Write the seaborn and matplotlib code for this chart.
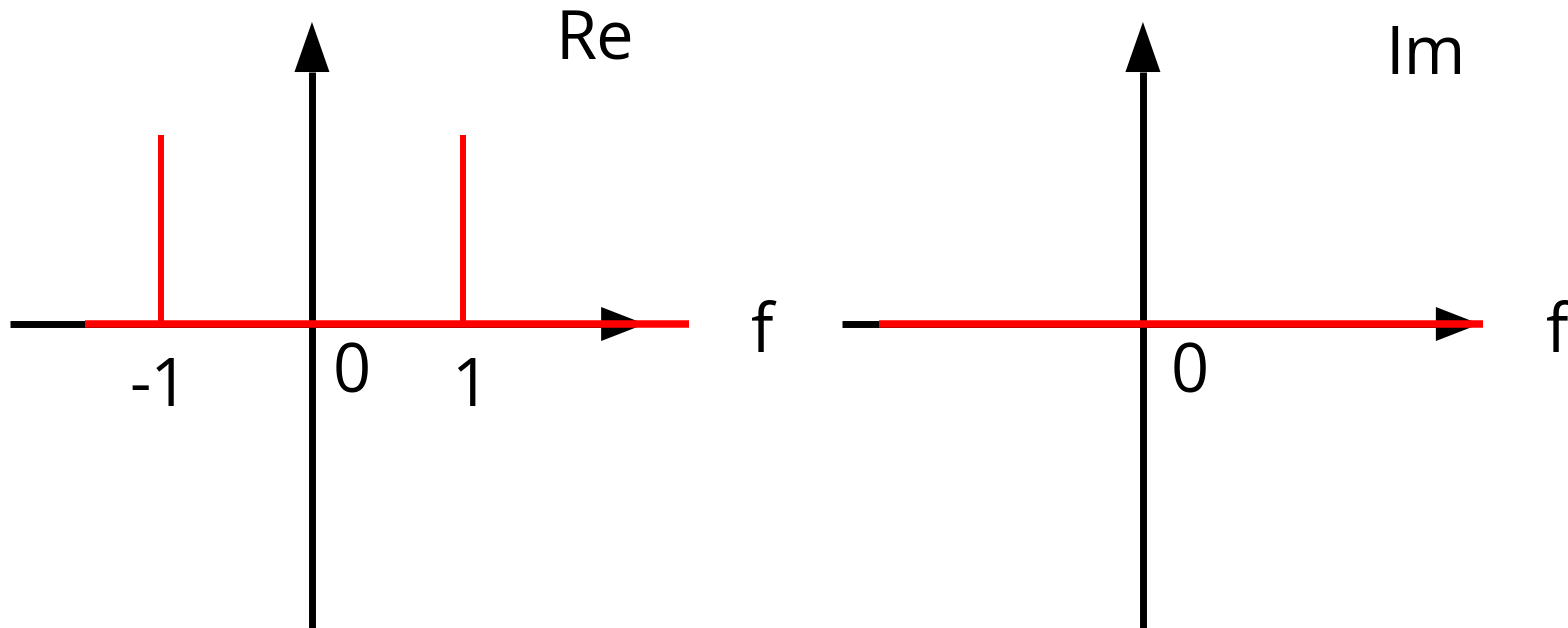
import matplotlib
matplotlib.use("Agg")
import matplotlib.pyplot as plt
import numpy as np
import pandas as pd
import seaborn as sns

# Spectrum of cos(2*pi*f0*t) with f0 = 1: real part has two impulses, imaginary part is zero
impulse_freqs = [-1, 1]
re_amplitudes = [1.0, 1.0]
re_band = [-1.5, 2.5]      # extent of the drawn real spectrum
im_band = [-1.75, 2.25]    # extent of the drawn imaginary spectrum
im_values = [0.0, 0.0]
re_tick_labels = ["-1", "1"]
panel_titles = ["Re", "Im"]
axis_label = "f"

sns.set_theme(style="white")
plt.rcParams["font.family"] = ["Open Sans", "DejaVu Sans"]

RED = "#ff0000"
BLACK = "#000000"
FS = 48

fig = plt.figure(figsize=(15.68, 6.28), dpi=100)
ax_re = fig.add_axes([0.0, 0.0, 0.5, 1.0])
ax_im = fig.add_axes([0.5, 0.0, 0.5, 1.0])

# x unit = 151 px, y unit = 189 px
ax_re.set_xlim(-2.066, 3.126)
ax_im.set_xlim(-2.377, 2.815)
for ax in (ax_re, ax_im):
    ax.set_ylim(-1.608, 1.714)
    ax.set_axis_off()


def draw_axes(ax, x_start, x_tip):
    # horizontal frequency axis with arrow head
    hl, hw = 0.29, 0.09
    ax.plot([x_start, x_tip - hl], [0, 0], color=BLACK, lw=5.0,
            solid_capstyle="butt", zorder=1)
    ax.fill([x_tip - hl, x_tip, x_tip - hl], [-hw, 0, hw], color=BLACK,
            lw=0, zorder=1)
    # vertical amplitude axis with arrow head
    vl, vw = 0.265, 0.116
    y_tip = 1.598
    ax.plot([0, 0], [-1.7, y_tip - vl], color=BLACK, lw=5.0,
            solid_capstyle="butt", zorder=1)
    ax.fill([-vw, 0, vw], [y_tip - vl, y_tip, y_tip - vl], color=BLACK,
            lw=0, zorder=1)


draw_axes(ax_re, -2.0, 2.205)
draw_axes(ax_im, -1.993, 2.23)

# real part: zero line plus impulses
re_df = pd.DataFrame({"f": re_band, "X": [0.0, 0.0]})
sns.lineplot(data=re_df, x="f", y="X", ax=ax_re, color=RED, lw=5.4,
             solid_capstyle="butt", zorder=3)
ax_re.vlines(impulse_freqs, 0, re_amplitudes, color=RED, lw=4.3, zorder=3)
ax_re.set_axis_off()

# imaginary part: identically zero
im_df = pd.DataFrame({"f": im_band, "X": im_values})
sns.lineplot(data=im_df, x="f", y="X", ax=ax_im, color=RED, lw=5.4,
             solid_capstyle="butt", zorder=3)
ax_im.set_axis_off()

# labels
txt = dict(fontsize=FS, color=BLACK, va="baseline", ha="center")
label_offsets = [-0.013, 0.046]
for f0, lab, dx in zip(impulse_freqs, re_tick_labels, label_offsets):
    ax_re.text(f0 + dx, -0.434, lab, **txt)
ax_re.text(0.265, -0.36, "0", **txt)
ax_re.text(2.98, -0.148, axis_label, **txt)
ax_re.text(1.874, 1.397, panel_titles[0], **txt)

ax_im.text(0.311, -0.36, "0", **txt)
ax_im.text(2.742, -0.148, axis_label, **txt)
ax_im.text(1.874, 1.323, panel_titles[1], **txt)

fig.savefig("out.png", dpi=100, facecolor="white")
